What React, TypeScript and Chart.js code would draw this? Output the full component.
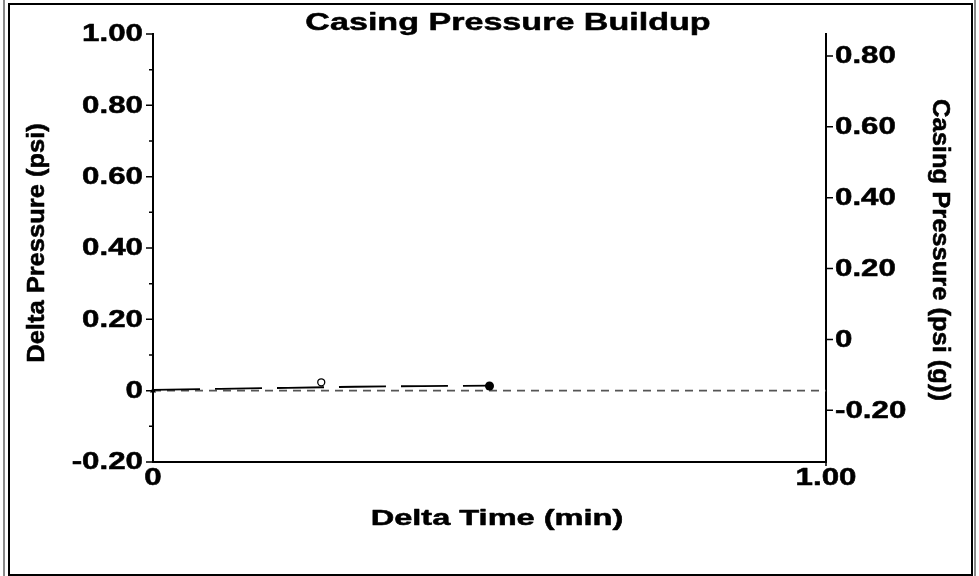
import React, { useEffect, useRef } from "react";
import { Chart, registerables } from "chart.js";

Chart.register(...registerables);

// ---- data ----
const deltaTime = [0, 0.1, 0.2, 0.3, 0.4, 0.5];
const deltaPressure = [0.002, 0.005, 0.008, 0.011, 0.013, 0.014];
const zeroLineX = [0, 1.0];
const zeroLineY = [0, 0];
const openMarkerX = [0.25];
const openMarkerY = [0.0235];
const endMarkerX = [0.5];
const endMarkerY = [0.013];
const startMarkerX = [0];
const startMarkerY = [0];

const xTicks = [0, 1.0];
const xTickLabels = ["0", "1.00"];
const leftTicks = [-0.2, 0, 0.2, 0.4, 0.6, 0.8, 1.0];
const leftTickLabels = ["-0.20", "0", "0.20", "0.40", "0.60", "0.80", "1.00"];
const leftMinorTicks = [-0.1, 0.1, 0.3, 0.5, 0.7, 0.9];
const rightTicks = [-0.2, 0, 0.2, 0.4, 0.6, 0.8];
const rightTickLabels = ["-0.20", "0", "0.20", "0.40", "0.60", "0.80"];

const titleText = "Casing Pressure Buildup";
const xTitle = "Delta Time (min)";
const yTitle = "Delta Pressure (psi)";
const y2Title = "Casing Pressure (psi (g))";

const FONT = '"Liberation Sans", Arial, sans-serif';

function pts(xs: number[], ys: number[]) {
  return xs.map((x, i) => ({ x, y: ys[i] }));
}

function drawText(
  ctx: CanvasRenderingContext2D,
  text: string,
  x: number,
  y: number,
  size: number,
  align: CanvasTextAlign,
  sx: number,
  rot = 0,
  sy = 1,
  weightStroke = 0.5
) {
  ctx.save();
  ctx.translate(x, y);
  ctx.rotate(rot);
  ctx.scale(sx, sy);
  ctx.font = `bold ${size}px ${FONT}`;
  ctx.textAlign = align;
  ctx.textBaseline = "middle";
  ctx.fillStyle = "#000";
  ctx.fillText(text, 0, 0);
  if (weightStroke > 0) {
    ctx.strokeStyle = "#000";
    ctx.lineWidth = weightStroke;
    ctx.lineJoin = "round";
    ctx.strokeText(text, 0, 0);
  }
  ctx.restore();
}

const decorPlugin = {
  id: "decor",
  beforeDraw(chart: any) {
    const ctx = chart.ctx as CanvasRenderingContext2D;
    ctx.save();
    ctx.fillStyle = "#fff";
    ctx.fillRect(0, 0, chart.width, chart.height);
    ctx.restore();
  },
  afterDraw(chart: any) {
    const ctx = chart.ctx as CanvasRenderingContext2D;
    const xs = chart.scales.x;
    const ys = chart.scales.y;
    const y2 = chart.scales.y2;
    const ca = chart.chartArea;
    ctx.save();
    // frame
    ctx.strokeStyle = "#8a8a8a";
    ctx.lineWidth = 2;
    ctx.beginPath();
    ctx.moveTo(4, 0);
    ctx.lineTo(4, chart.height);
    ctx.moveTo(975, 0);
    ctx.lineTo(975, chart.height);
    ctx.stroke();
    ctx.strokeStyle = "#000";
    ctx.lineWidth = 2;
    ctx.strokeRect(9, 4, 963, 571);

    // ticks
    ctx.lineWidth = 1.5;
    ctx.beginPath();
    leftTicks.forEach((v) => {
      const p = ys.getPixelForValue(v);
      ctx.moveTo(ca.left - 7, p);
      ctx.lineTo(ca.left, p);
    });
    leftMinorTicks.forEach((v) => {
      const p = ys.getPixelForValue(v);
      ctx.moveTo(ca.left - 4, p);
      ctx.lineTo(ca.left, p);
    });
    rightTicks.forEach((v) => {
      const p = y2.getPixelForValue(v);
      ctx.moveTo(ca.right, p);
      ctx.lineTo(ca.right + 7, p);
    });
    ctx.moveTo(ca.right, ca.bottom);
    ctx.lineTo(ca.right, ca.bottom + 4);
    ctx.stroke();
    ctx.restore();

    // tick labels
    leftTicks.forEach((v, i) => {
      drawText(ctx, leftTickLabels[i], ca.left - 10, ys.getPixelForValue(v) + 1, 23, "right", 1.36);
    });
    rightTicks.forEach((v, i) => {
      drawText(ctx, rightTickLabels[i], ca.right + 9, y2.getPixelForValue(v) + 1, 23, "left", 1.36);
    });
    xTicks.forEach((v, i) => {
      drawText(ctx, xTickLabels[i], xs.getPixelForValue(v), ca.bottom + 17, 23, "center", 1.36);
    });

    // titles
    drawText(ctx, titleText, 508, 23, 24, "center", 1.42);
    drawText(ctx, xTitle, 497, 519, 22, "center", 1.48);
    drawText(ctx, yTitle, 37, (ca.top + ca.bottom) / 2 - 5, 25.5, "center", 1, -Math.PI / 2, 0.95, 0.6);
    drawText(ctx, y2Title, 940, (ca.top + ca.bottom) / 2 + 2, 25.5, "center", 1, Math.PI / 2, 0.95, 0.6);
  },
};

export default function App() {
  const ref = useRef<HTMLCanvasElement | null>(null);

  useEffect(() => {
    if (!ref.current) return;
    const chart = new Chart(ref.current, {
      type: "scatter",
      data: {
        datasets: [
          {
            label: "open",
            data: pts(openMarkerX, openMarkerY),
            showLine: false,
            pointStyle: "circle",
            pointRadius: 3.5,
            pointBorderWidth: 1.3,
            pointBorderColor: "#000",
            pointBackgroundColor: "#fff",
            yAxisID: "y",
            order: 0,
            clip: false,
          } as any,
          {
            label: "open-dot",
            data: pts(openMarkerX, openMarkerY),
            showLine: false,
            pointStyle: "circle",
            pointRadius: 0.8,
            pointBorderWidth: 0,
            pointBackgroundColor: "#000",
            yAxisID: "y",
            order: 0,
            clip: false,
          } as any,
          {
            label: "end",
            data: pts(endMarkerX, endMarkerY),
            showLine: false,
            pointStyle: "circle",
            pointRadius: 4.5,
            pointBorderWidth: 0,
            pointBackgroundColor: "#000",
            yAxisID: "y",
            order: 0,
            clip: false,
          } as any,
          {
            label: "start",
            data: pts(startMarkerX, startMarkerY),
            showLine: false,
            pointStyle: "triangle",
            pointRadius: 3.5,
            pointBorderWidth: 0,
            pointBackgroundColor: "#000",
            yAxisID: "y",
            order: 0,
            clip: false,
          } as any,
          {
            label: "Delta Pressure",
            data: pts(deltaTime, deltaPressure),
            showLine: true,
            borderColor: "#000",
            borderWidth: 1.8,
            borderDash: [47, 15],
            pointRadius: 0,
            yAxisID: "y",
            order: 1,
          } as any,
          {
            label: "zero",
            data: pts(zeroLineX, zeroLineY),
            showLine: true,
            borderColor: "#555",
            borderWidth: 1.6,
            borderDash: [8, 6],
            pointRadius: 0,
            yAxisID: "y",
            order: 2,
          } as any,
        ],
      },
      options: {
        responsive: false,
        animation: false,
        devicePixelRatio: 1,
        layout: { padding: { top: 34, left: 0, right: 0, bottom: 0 } },
        plugins: {
          legend: { display: false },
          title: { display: false },
          tooltip: { enabled: false },
        },
        scales: {
          x: {
            type: "linear",
            position: "bottom",
            min: 0,
            max: 1,
            ticks: { display: false },
            grid: { display: false },
            border: { display: true, color: "#000", width: 2 },
            afterFit: (s: any) => {
              s.height = 114;
            },
          },
          y: {
            type: "linear",
            position: "left",
            min: -0.2,
            max: 1.0,
            ticks: { display: false },
            grid: { display: false },
            border: { display: true, color: "#000", width: 2 },
            afterFit: (s: any) => {
              s.width = 153;
            },
          },
          y2: {
            type: "linear",
            position: "right",
            min: -0.346,
            max: 0.862,
            ticks: { display: false },
            grid: { display: false },
            border: { display: true, color: "#000", width: 2 },
            afterFit: (s: any) => {
              s.width = 153;
            },
          },
        },
      } as any,
      plugins: [decorPlugin],
    });
    return () => chart.destroy();
  }, []);

  return (
    <div style={{ position: "absolute", left: 0, top: 0, width: 979, height: 576 }}>
      <canvas ref={ref} width={979} height={576} style={{ display: "block" }} />
    </div>
  );
}
